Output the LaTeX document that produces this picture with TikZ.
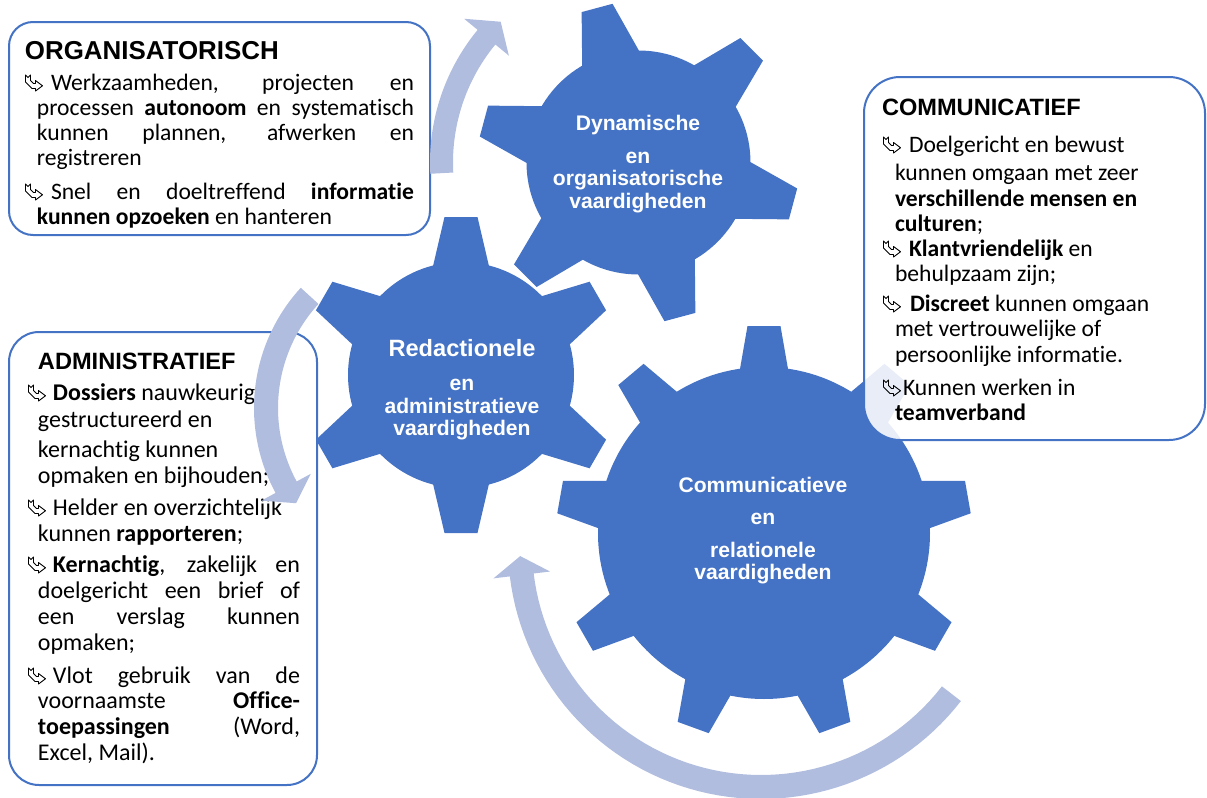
\documentclass[tikz,border=0pt]{standalone}
\usepackage{fontspec}
\setmainfont{Carlito}[Ligatures={NoCommon}]
\newfontfamily\arialf{Liberation Sans}
\definecolor{gearblue}{RGB}{68,114,196}
\definecolor{arrowc}{RGB}{176,189,223}
\hbadness=10000 \hfuzz=30pt
\begin{document}
\begin{tikzpicture}[x=0.5pt,y=-0.5pt,
  ln/.style={anchor=base west, inner sep=0pt, outer sep=0pt, font=\fontsize{11.8}{13}\selectfont},
  lnc/.style={ln, font=\fontsize{12}{13}\selectfont},
  hd/.style={anchor=base west, inner sep=0pt, outer sep=0pt, font=\arialf\bfseries\fontsize{11.8}{13}\selectfont},
  gt/.style={anchor=base, inner sep=0pt, outer sep=0pt, text=white, font=\arialf\bfseries\fontsize{10.55}{12}\selectfont},
  box/.style={draw=gearblue, line width=1pt, fill=white},
  bul/.pic={\draw[line width=0.45pt, line join=round] (0.5,-15) -- (3,-12.5) -- (5.5,-15) -- (5.5,-9.5) -- (8.5,-6.5) -- (10.5,-6.5) -- (10.5,-9.5) -- (17.5,-4.25) -- (10.5,1) -- (10.5,-1.5) -- (7,-1.5) -- (0.5,-8) -- cycle;}
]
\useasboundingbox (0,0) rectangle (1207,798);
\clip (0,0) rectangle (1207,798);

% ---------- gears ----------
\fill[gearblue] (638.5,162.5) circle (112);
\foreach \a in {45,105,165,225,285,345}
  \fill[gearblue, shift={(638.5,162.5)}, rotate=\a] (90,-34) -- (160,-16) -- (160,16) -- (90,34) -- cycle;

\fill[gearblue] (461,375) circle (113);
\foreach \a in {30,90,150,210,270,330}
  \fill[gearblue, shift={(461,375)}, rotate=\a] (90,-32.4) -- (158,-16.5) -- (158,16.5) -- (90,32.4) -- cycle;

\fill[gearblue] (764,533) circle (166);
\foreach \a in {10,50,90,130,170,210,250,290,330}
  \fill[gearblue, shift={(764,533)}, rotate=\a] (140,-28.2) -- (207,-16.5) -- (207,16.5) -- (140,28.2) -- cycle;

% ---------- gear texts ----------
\node[gt] (g1a) at (638,130) {Dynamische};
\node[gt] (g1b) at (638,163) {en};
\node[gt] (g1c) at (638,185) {organisatorische};
\node[gt] (g1d) at (638,208) {vaardigheden};

\node[gt, font=\arialf\bfseries\fontsize{11.8}{13}\selectfont] (g2a) at (462,356) {Redactionele};
\node[gt] (g2b) at (462,390) {en};
\node[gt] (g2c) at (462,413) {administratieve};
\node[gt] (g2d) at (462,435) {vaardigheden};

\node[gt] (g3a) at (763,492) {Communicatieve};
\node[gt] (g3b) at (763,524) {en};
\node[gt] (g3c) at (763,557) {relationele};
\node[gt] (g3d) at (763,579) {vaardigheden};

% ---------- box 1 ----------
\draw[box, rounded corners=12pt] (9,22) rectangle (430,235);
\node[hd, font=\arialf\bfseries\fontsize{12.95}{15}\selectfont] (oh) at (25,59) {ORGANISATORISCH};
\pic at (25,90) {bul};
\node[ln] (o1) at (51,90) {\makebox[181.5pt][s]{Werkzaamheden, projecten en}};
\node[ln] (o2) at (37,115) {\makebox[188.5pt][s]{processen \textbf{autonoom} en systematisch}};
\node[ln] (o3) at (37,140) {\makebox[188.5pt][s]{kunnen plannen, afwerken en}};
\node[ln] (o4) at (37,165) {registreren};
\pic at (25,199) {bul};
\node[ln] (o5) at (51,199) {\makebox[181.5pt][s]{Snel en doeltreffend \textbf{informatie}}};
\node[ln] (o6) at (37,224) {\textbf{kunnen opzoeken} en hanteren};

% ---------- box 2 ----------
\draw[box, fill opacity=0.88, rounded corners=18pt] (864,77) rectangle (1205,440);
\node[hd] (ch) at (882,115) {COMMUNICATIEF};
\pic at (883,152) {bul};
\node[ln] (c1) at (909,152) {Doelgericht en bewust};
\node[ln] (c2) at (895,180) {kunnen omgaan met zeer};
\node[ln] (c3) at (895,206) {\textbf{verschillende mensen en}};
\node[ln] (c4) at (895,231) {\textbf{culturen};};
\pic at (883,256) {bul};
\node[ln] (c5) at (909,256) {\textbf{Klantvriendelijk} en};
\node[ln] (c6) at (895,281) {behulpzaam zijn;};
\pic at (883,311) {bul};
\node[ln] (c7) at (910,311) {\textbf{Discreet} kunnen omgaan};
\node[ln] (c8) at (895,336) {met vertrouwelijke of};
\node[ln] (c9) at (895,362) {persoonlijke informatie.};
\pic at (883,395) {bul};
\node[ln] (c10) at (903,395) {Kunnen werken in};
\node[ln] (c11) at (895,420) {\textbf{teamverband}};

% ---------- box 3 ----------
\draw[box, rounded corners=15pt] (9,332) rectangle (317,785);
\node[hd] (ah) at (38,369) {ADMINISTRATIEF};
\pic at (28,400) {bul};
\node[lnc] (a1) at (53,400) {\textbf{Dossiers} nauwkeurig};
\node[lnc] (a2) at (38,427) {gestructureerd en};
\node[lnc] (a3) at (38,457) {kernachtig kunnen};
\node[lnc] (a4) at (38,483) {opmaken en bijhouden;};
\pic at (28,515) {bul};
\node[lnc] (a5) at (53,515) {Helder en overzichtelijk};
\node[lnc] (a6) at (38,541) {kunnen \textbf{rapporteren};};
\pic at (28,572) {bul};
\node[lnc] (a7) at (53,572) {\makebox[123.5pt][s]{\textbf{Kernachtig}, zakelijk en}};
\node[lnc] (a8) at (38,598) {\makebox[131pt][s]{doelgericht een brief of}};
\node[lnc] (a9) at (38,624) {\makebox[131pt][s]{een verslag kunnen}};
\node[lnc] (a10) at (38,650) {opmaken;};
\pic at (28,683) {bul};
\node[lnc] (a11) at (53,683) {\makebox[123.5pt][s]{Vlot gebruik van de}};
\node[lnc] (a12) at (38,708) {\makebox[131pt][s]{voornaamste \textbf{Office-}}};
\node[lnc] (a13) at (38,734) {\makebox[131pt][s]{\textbf{toepassingen} (Word,}};
\node[lnc] (a14) at (38,760) {Excel, Mail).};

% ---------- circular arrows ----------
\fill[arrowc] plot[domain=176.9:219.5,samples=30] ({638.5+208.5*cos(\x)},{162.5+208.5*sin(\x)})
  -- ({638.5+226*cos(219.5)},{162.5+226*sin(219.5)})
  -- ({638.5+197*cos(225.6)},{162.5+197*sin(225.6)})
  -- ({638.5+168*cos(219.5)},{162.5+168*sin(219.5)})
  -- plot[domain=219.5:176.9,samples=30] ({638.5+185.5*cos(\x)},{162.5+185.5*sin(\x)}) -- cycle;

\fill[arrowc] plot[domain=222.5:151.5,samples=40] ({432+178*cos(\x)},{408+178*sin(\x)})
  -- ({432+194*cos(151.5)},{408+194*sin(151.5)})
  -- ({432+166*cos(145)},{408+166*sin(145)})
  -- ({432+138*cos(151.5)},{408+138*sin(151.5)})
  -- plot[domain=151.5:222.5,samples=40] ({432+154*cos(\x)},{408+154*sin(\x)}) -- cycle;

\fill[arrowc] plot[domain=37.8:173.1,samples=60] ({761+253*cos(\x)},{546+253*sin(\x)})
  -- ({761+269.5*cos(173.1)},{546+269.5*sin(173.1)})
  -- ({761+241*cos(177.6)},{546+241*sin(177.6)})
  -- ({761+212.5*cos(173.1)},{546+212.5*sin(173.1)})
  -- plot[domain=173.1:37.8,samples=60] ({761+229*cos(\x)},{546+229*sin(\x)}) -- cycle;
\end{tikzpicture}
\end{document}
